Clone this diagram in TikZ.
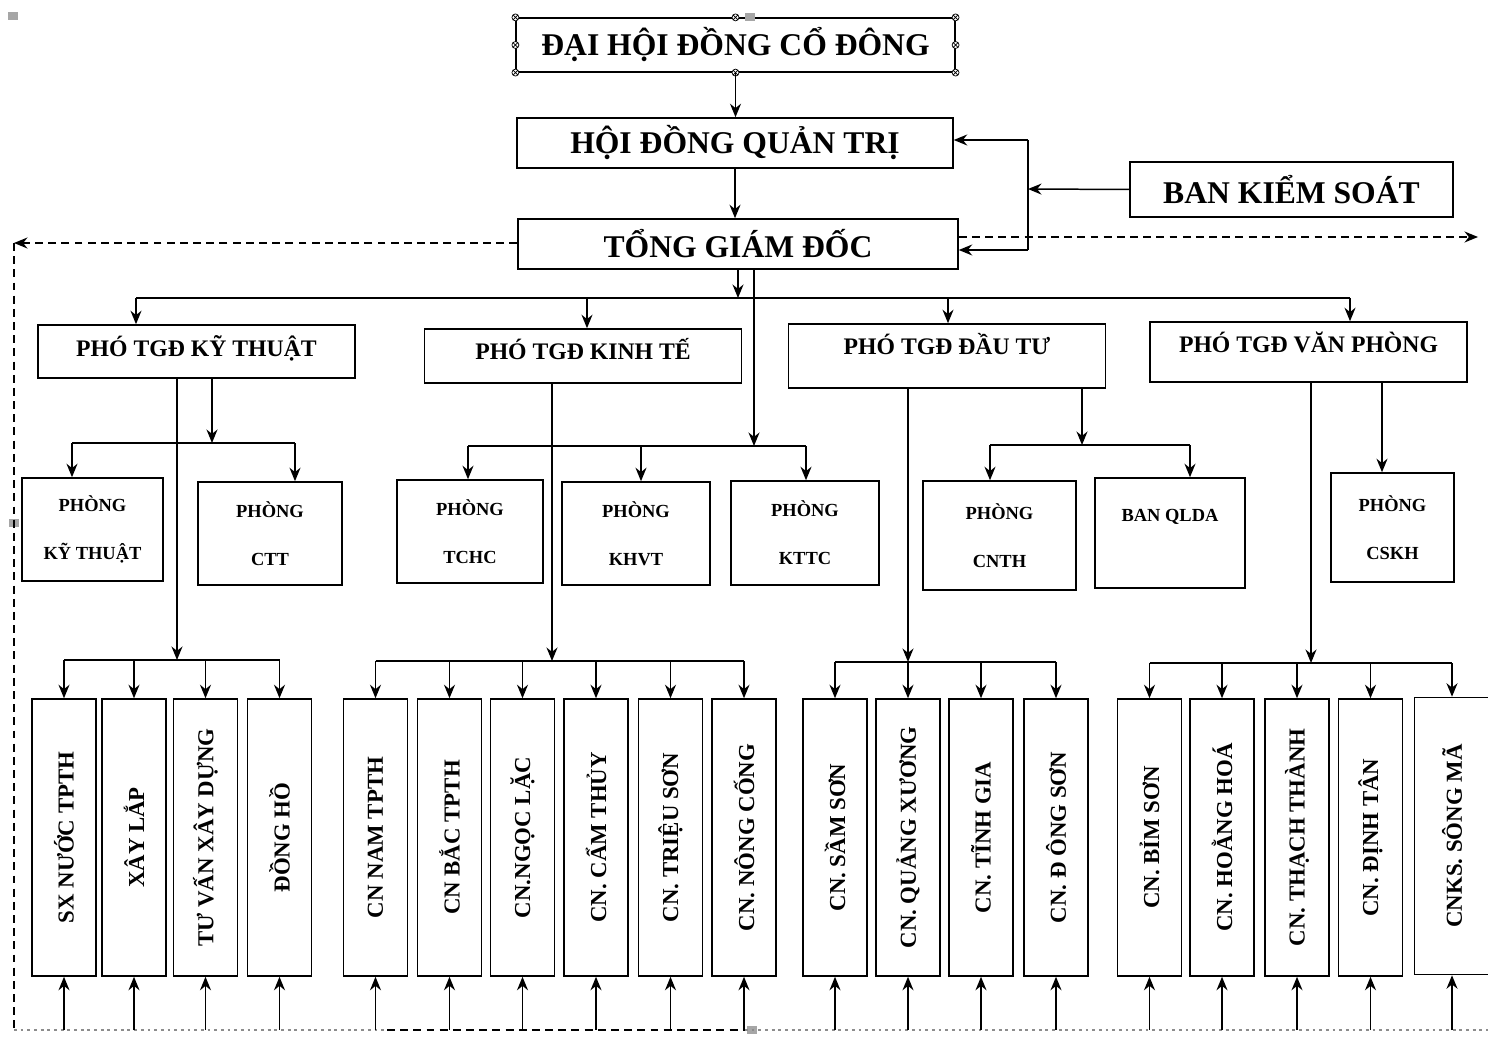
\documentclass[tikz,border=0pt]{standalone}
\usepackage{fontspec}
\setmainfont{Liberation Serif}
\usepackage{graphicx}
\usetikzlibrary{arrows.meta}

\begin{document}
\begin{tikzpicture}[x=0.02cm, y=-0.02cm,
  box/.style={draw, line width=0.9pt, inner sep=0pt, align=center},
  big/.style={box, font=\fontsize{18}{21}\selectfont\bfseries},
  vice/.style={box, minimum width=6.34cm, font=\fontsize{13.5}{16}\selectfont\bfseries},
  dept/.style={box, font=\fontsize{10.5}{12.6}\selectfont\bfseries},
  unit/.style={box, minimum width=1.28cm, minimum height=5.54cm, font=\fontsize{13}{15}\selectfont\bfseries},
  ln/.style={line width=0.85pt},
  arr/.style={ln, -{Stealth[length=2.7mm, width=2.2mm]}},
  dsh/.style={ln, dash pattern=on 4.5pt off 3pt},
  mk/.style={line width=1.3pt, black!45, dash pattern=on 1.6pt off 2.2pt}]

  \useasboundingbox (0,0) rectangle (1488,1037);
  \clip (0,0) rectangle (1488,1037);

  % top levels
  \node[big, line width=0.7pt, minimum width=8.78cm, minimum height=1.08cm] (dh) at (735.5,45) {ĐẠI HỘI ĐỒNG CỔ ĐÔNG};
  \node[big, minimum width=8.72cm, minimum height=1.0cm] (hd) at (735,143) {HỘI ĐỒNG QUẢN TRỊ};
  \node[big, minimum width=8.8cm, minimum height=1.0cm] (tgd) at (738,244) {TỔNG GIÁM ĐỐC};
  \node[big, minimum width=6.46cm, minimum height=1.1cm] (bks) at (1291.5,189.5) {BAN KIỂM SOÁT};

  % selection handles
  \foreach \a in {north west,north,north east,west,east,south west,south,south east}
    \draw[line width=0.4pt, fill=white] (dh.\a) circle (0.07cm)
      (dh.\a) ++(-0.05cm,-0.05cm) -- ++(0.1cm,0.1cm)
      (dh.\a) ++(-0.05cm,0.05cm) -- ++(0.1cm,-0.1cm);
  \foreach \p in {(745,13), (8,12), (9,519), (747,1026)}
    \fill[black!35] \p rectangle ++(10,8);

  % deputies
  \node[vice, minimum height=1.06cm, text depth=0.2cm] (pkt) at (196.5,351.5) {PHÓ TGĐ KỸ THUẬT};
  \node[vice, minimum height=1.08cm, text depth=0.27cm] (pkte) at (583,356) {PHÓ TGĐ KINH TẾ};
  \node[vice, minimum height=1.28cm, text depth=0.47cm] (pdt) at (947,356) {PHÓ TGĐ ĐẦU TƯ};
  \node[vice, minimum height=1.2cm, text depth=0.39cm] (pvp) at (1308.5,352) {PHÓ TGĐ VĂN PHÒNG};

  % departments
  \node[dept, minimum width=2.82cm, minimum height=2.06cm] (p1) at (92.5,529.5) {PHÒNG\\[0.52cm]KỸ THUẬT};
  \node[dept, minimum width=2.88cm, minimum height=2.06cm] (p2) at (270,533.5) {PHÒNG\\[0.52cm]CTT};
  \node[dept, minimum width=2.92cm, minimum height=2.06cm] (p3) at (470,531.5) {PHÒNG\\[0.52cm]TCHC};
  \node[dept, minimum width=2.96cm, minimum height=2.06cm] (p4) at (636,533.5) {PHÒNG\\[0.52cm]KHVT};
  \node[dept, minimum width=2.96cm, minimum height=2.08cm] (p5) at (805,533) {PHÒNG\\[0.52cm]KTTC};
  \node[dept, minimum width=3.06cm, minimum height=2.18cm] (p6) at (999.5,535.5) {PHÒNG\\[0.52cm]CNTH};
  \node[dept, minimum width=3.0cm, minimum height=2.2cm, text depth=0.69cm] (p7) at (1170,533) {BAN QLDA};
  \node[dept, minimum width=2.46cm, minimum height=2.18cm] (p8) at (1392.5,527.5) {PHÒNG\\[0.52cm]CSKH};

  % branches
  \foreach \n/\x/\t in {u1/64/SX NƯỚC TPTH, u2/134/XÂY LẮP, u3/205.5/TƯ VẤN XÂY DỰNG, u4/279.5/ĐỒNG HỒ,
      u5/375.5/CN NAM TPTH, u6/449.5/CN BẮC TPTH, u7/522.5/CN.NGỌC LẶC, u8/596/CN. CẨM THỦY,
      u9/670.5/CN. TRIỆU SƠN, u10/744/CN. NÔNG CỐNG, u11/835/CN. SẦM SƠN, u12/908/CN. QUẢNG XƯƠNG,
      u13/981/CN. TĨNH GIA, u14/1056/CN. Đ ÔNG SƠN, u15/1149.5/CN. BỈM SƠN, u16/1222/CN. HOẰNG HOÁ,
      u17/1297/CN. THẠCH THÀNH, u18/1370.5/CN. ĐỊNH TÂN}
    \node[unit] (\n) at (\x,837.5) {\rotatebox{90}{\t}};
  \node[unit, minimum width=1.5cm] (u19) at (1452,836) {\rotatebox{90}{CNKS. SÔNG MÃ}};

  % main line
  \draw[arr] (dh.south) -- (dh.south |- hd.north);
  \draw[arr] (hd.south) -- (hd.south |- tgd.north);
  \coordinate (kj) at (1028,189);
  \draw[arr] (bks.west) -- (kj);
  \draw[ln] (1028,140) -- (1028,250);
  \draw[arr] (1028,140) -- (1028,140 -| hd.east);
  \draw[arr] (1028,250) -- (1028,250 -| tgd.east);

  % feedback (dashed)
  \coordinate (lt) at (14,243);
  \coordinate (lb) at (14,1030);
  \coordinate (rb) at (1490,1030);
  \draw[dsh, -{Stealth[length=2.7mm, width=2.2mm]}] (lt -| tgd.west) -- (lt);
  \draw[dsh] (lt) -- (lb);
  \draw[mk] (lb) -- (387,1030);
  \draw[dsh] (387,1030) -- (745,1030);
  \draw[mk] (745,1030) -- (rb);
  \draw[dsh, -{Stealth[length=2.7mm, width=2.2mm]}] (tgd.east |- 0,237) -- (1478,237);
  \foreach \i in {1,...,19}
    \draw[arr] (lb -| u\i) -- (u\i.south);

  % deputies bus
  \draw[arr] (tgd.south) -- (738,298);
  \draw[ln] (136,298) -- (1350,298);
  \foreach \x/\n in {136/pkt, 587/pkte, 948/pdt, 1350/pvp}
    \draw[arr] (\x,298) -- (\x,298 |- \n.north);

  % departments bus
  \draw[arr] (212,0 |- pkt.south) -- (212,443);
  \draw[ln] (72,443) -- (295,443);
  \draw[arr] (754,0 |- tgd.south) -- (754,446);
  \draw[ln] (468,446) -- (806,446);
  \draw[arr] (1082,0 |- pdt.south) -- (1082,445);
  \draw[ln] (990,445) -- (1190,445);
  \foreach \x/\y/\n in {72/443/p1, 295/443/p2, 468/446/p3, 641/446/p4, 806/446/p5, 990/445/p6, 1190/445/p7}
    \draw[arr] (\x,\y) -- (\x,\y |- \n.north);
  \draw[arr] (1382,0 |- pvp.south) -- (1382,0 |- p8.north);

  % branches bus
  \foreach \s/\f/\y/\a/\b in {pkt/177/660/1/4, pkte/552/661/5/10, pdt/908/662/11/14, pvp/1311/663/15/19} {
    \draw[arr] (\f,0 |- \s.south) -- (\f,\y);
    \draw[ln] (u\a |- 0,\y) -- (u\b |- 0,\y);
    \foreach \i in {\a,...,\b}
      \draw[arr] (u\i |- 0,\y) -- (u\i.north);
  }
\end{tikzpicture}
\end{document}
